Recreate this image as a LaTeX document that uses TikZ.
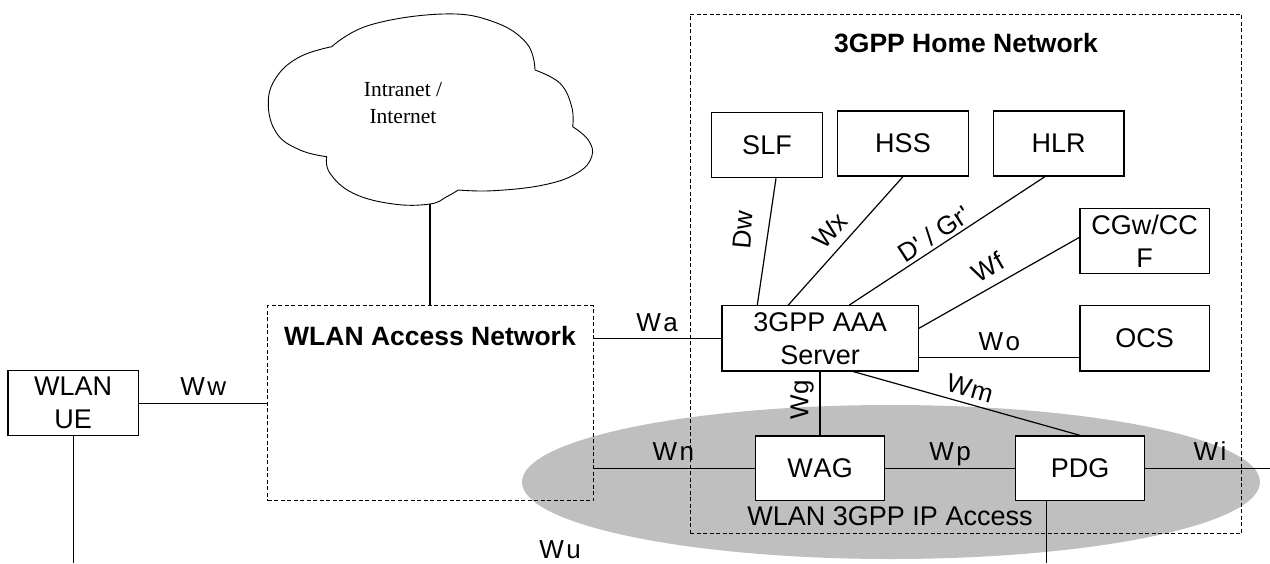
\documentclass[tikz,border=0pt]{standalone}
\usepackage{fontspec}
\setmainfont{Liberation Sans}
\newfontfamily\cloudserif{Liberation Serif}
\usetikzlibrary{calc}
\newcommand\wsp[2]{#1\kern2.5pt #2}
\begin{document}
\begin{tikzpicture}[x=1pt,y=-1pt,
  box/.style={draw, line width=1.2pt, fill=white, inner sep=0pt, align=center,
    font=\fontsize{27}{33}\selectfont},
  ln/.style={line width=1.2pt},
  dbox/.style={draw, line width=1pt, dash pattern=on 4pt off 2.5pt, inner sep=0pt},
  lbl/.style={inner sep=0pt, font=\fontsize{26}{30}\selectfont},
  ttl/.style={inner sep=0pt, font=\bfseries\fontsize{26.5}{30}\selectfont}]
\useasboundingbox (0,0) rectangle (1270,563);

% grey WLAN 3GPP IP Access area
\fill[gray!50] (891,482) ellipse [x radius=369pt, y radius=77pt];

% cloud
\draw[line width=0.9pt] plot[smooth, tension=0.7] coordinates {(331.7,46.7) (370,25) (443.3,14) (493.3,21.7) (526.7,43.3) (535,70)}
  -- plot[smooth, tension=0.7] coordinates {(535,70) (560,83.3) (571.7,106.7) (572.7,126.7)}
  -- plot[smooth, tension=0.7] coordinates {(572.7,126.7) (588.3,140) (591.7,156.7) (576.7,173.3) (543.3,185) (493.3,190.7) (458.3,190)}
  -- plot[smooth, tension=0.7] coordinates {(458.3,190) (446.7,196.7) (430,204) (393.3,204) (353.3,193.3) (330,173.3) (326.7,156.7)}
  -- plot[smooth, tension=0.7] coordinates {(326.7,156.7) (300,150) (276.7,133.3) (268.3,103.3) (276.7,76.7) (300,56.7) (331.7,46.7)} -- cycle;
\coordinate (cloudbot) at (430,204);
\node[inner sep=0pt, align=center, font=\cloudserif\fontsize{21.5}{26.7}\selectfont] (cloudtxt) at (403,103) {Intranet /\\Internet};

% containers
\node[dbox, minimum width=551.7pt, minimum height=519.3pt] (home) at (965.85,273.65) {};
\node[ttl, anchor=base] (hometitle) at (966,52) {3GPP Home Network};
\node[dbox, minimum width=325.8pt, minimum height=195pt] (an) at (430.4,403.2) {};
\node[ttl, anchor=base] (antitle) at (430,345) {WLAN Access Network};

% boxes
\node[box, minimum width=130.3pt, minimum height=65pt] (ue) at (73.2,403.2) {WLAN\\UE};
\node[box, minimum width=110.6pt, minimum height=65pt] (slf) at (767,145.2) {SLF};
\node[box, minimum width=130.6pt, minimum height=65pt] (hss) at (903,143.5) {HSS};
\node[box, minimum width=130.7pt, minimum height=65pt] (hlr) at (1058.7,143.5) {HLR};
\node[box, minimum width=129.3pt, minimum height=64.6pt] (cgw) at (1144.7,241) {CGw/CC\\F};
\node[box, minimum width=129.3pt, minimum height=65.3pt] (ocs) at (1144.7,338.3) {OCS};
\node[box, minimum width=196.3pt, minimum height=65.3pt] (aaa) at (820.2,338.3) {3GPP AAA\\Server};
\node[box, minimum width=129.4pt, minimum height=64.7pt] (wag) at (820,468.3) {W\kern1pt AG};
\node[box, minimum width=128.6pt, minimum height=64.7pt] (pdg) at (1080,468.3) {PDG};

% free ends
\coordinate (ueend) at (73.3,563);
\coordinate (pdgend) at (1046.7,563);
\coordinate (wiend) at (1270,468.3);

% connectors
\draw[ln] (cloudbot) -- (cloudbot |- an.north);
\draw[ln] (ue) -- (an);
\draw[ln] (ue.south) -- (ue.south |- ueend);
\draw[ln] (aaa.west) -- (aaa.west -| an.east);
\draw[ln] (wag.west) -- (wag.west -| an.east);
\draw[ln] (wag.east) -- (pdg.west);
\draw[ln] (pdg.east) -- (wiend);
\draw[ln] (pdgend |- pdg.south) -- (pdgend);
\draw[ln] (wag.north) -- (wag.north |- aaa.south);
\draw[ln] ($(aaa.south)+(33,0)$) -- (pdg.north);
\draw[ln] ($(aaa.north)+(-62.9,0)$) -- ($(slf.south)+(9,0)$);
\draw[ln] ($(aaa.north)+(-31.9,0)$) -- (hss.south);
\draw[ln] ($(aaa.north)+(29.1,0)$) -- ($(hlr.south)+(-13.7,0)$);
\draw[ln] ($(aaa.east)+(0,-10)$) -- ($(cgw.west)+(0,-3.7)$);
\draw[ln] ($(aaa.east)+(0,19.4)$) -- ($(ocs.west)+(0,19.4)$);

% labels
\node[lbl, anchor=base] (lww) at (203.3,395) {\wsp{W}{w}};
\node[lbl, anchor=base] (lwa) at (657,331.5) {\wsp{W}{a}};
\node[lbl, anchor=base] (lwo) at (999.3,350) {\wsp{W}{o}};
\node[lbl, anchor=base] (lwn) at (673.3,460) {\wsp{W}{n}};
\node[lbl, anchor=base] (lwp) at (950,460) {\wsp{W}{p}};
\node[lbl, anchor=base] (lwi) at (1210,460) {\wsp{W}{i}};
\node[lbl, anchor=base] (lwu) at (560,558.5) {\wsp{W}{u}};
\node[lbl, rotate=90] (lwg) at (802,400) {Wg};
\node[lbl, rotate=85] (ldw) at (743,230) {Dw};
\node[lbl, rotate=48] (lwx) at (830,231) {Wx};
\node[lbl, rotate=33] (ldg) at (934,234) {D\textquotesingle\ / Gr\textquotesingle};
\node[lbl, rotate=30] (lwf) at (988,267) {Wf};
\node[lbl, rotate=-16] (lwm) at (970,388) {W\kern1pt m};
\node[inner sep=0pt, anchor=base, font=\fontsize{27}{30}\selectfont] (ipaccess) at (890,525.7) {WLAN 3GPP IP Access};
\end{tikzpicture}
\end{document}
